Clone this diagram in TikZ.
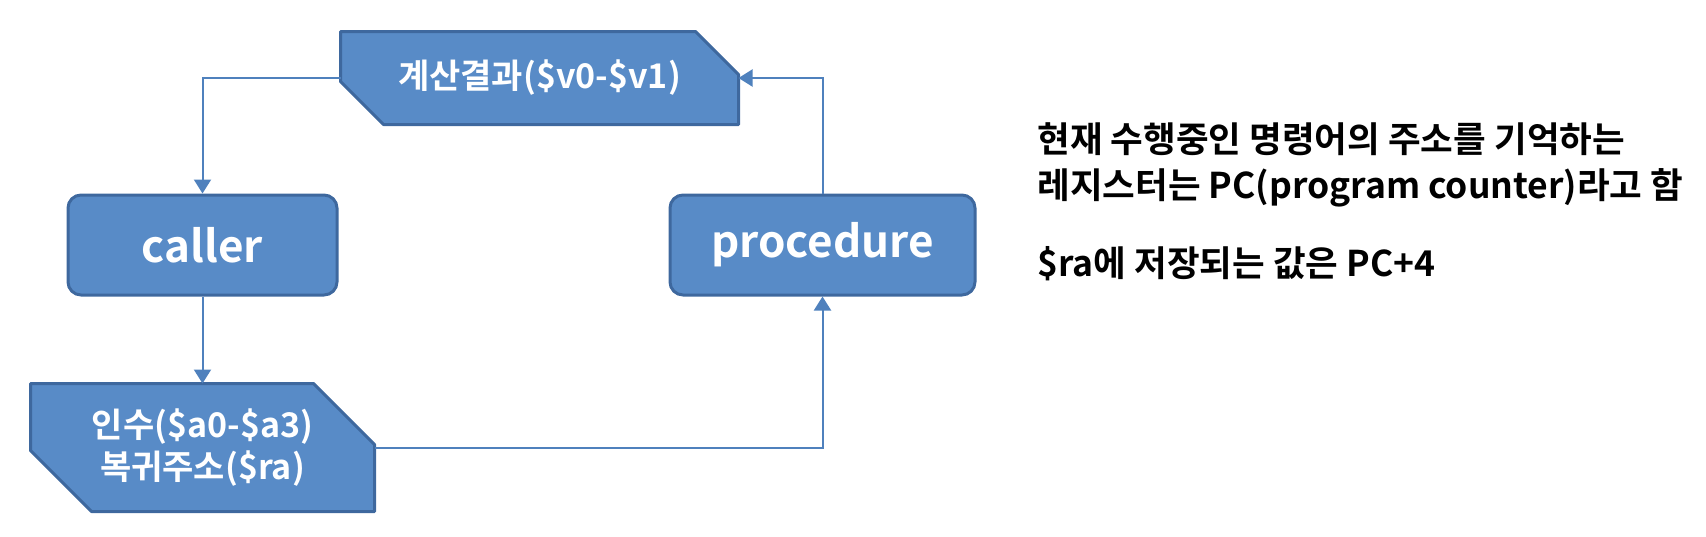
\documentclass[tikz,border=0pt]{standalone}
\usepackage{fontspec}
\setmainfont{Noto Sans CJK KR}[BoldFont={Noto Sans CJK KR Bold}]
\usepackage{tikz}
\usetikzlibrary{arrows.meta, backgrounds}

\definecolor{boxblue}{RGB}{88,139,199}
\definecolor{boxline}{RGB}{62,104,158}
\definecolor{linkblue}{RGB}{79,129,189}

\tikzset{
    cutbox/.style={draw=boxline, line width=3pt, line join=round, fill=boxblue}
}

\begin{document}
\begin{tikzpicture}[x=1pt, y=-1pt]
            \useasboundingbox (0,0) rectangle (1706,536);
            \begin{scope}[every node/.style={text=white, inner sep=0pt, outer sep=1.5pt}]
                \node[minimum width=395pt, minimum height=90pt,
                      font=\bfseries\fontsize{34}{40}\selectfont] (res) at (539.5,78) {계산결과(\$v0-\$v1)};
                \node[draw=boxline, line width=3pt, fill=boxblue, rounded corners=13pt,
                      minimum width=269pt, minimum height=100pt,
                      font=\bfseries\fontsize{44}{50}\selectfont] (caller) at (202.5,245) {caller};
                \node[draw=boxline, line width=3pt, fill=boxblue, rounded corners=13pt,
                      minimum width=305pt, minimum height=100pt,
                      font=\bfseries\fontsize{44}{50}\selectfont] (proc) at (822.5,245) {procedure};
                \node[minimum width=341pt, minimum height=125pt, align=center,
                      font=\bfseries\fontsize{34}{42}\selectfont] (args) at (202.5,447.5) {인수(\$a0-\$a3)\\복귀주소(\$ra)};
            \end{scope}

            \begin{pgfonlayer}{background}
                \draw[cutbox] (res.north west) -- ([xshift=-43pt]res.north east)
                    -- ([yshift=-43pt]res.north east) -- (res.south east)
                    -- ([xshift=43pt]res.south west) -- ([yshift=43pt]res.south west) -- cycle;
                \draw[cutbox] (args.north west) -- ([xshift=-61pt]args.north east)
                    -- ([yshift=-61pt]args.north east) -- (args.south east)
                    -- ([xshift=61pt]args.south west) -- ([yshift=61pt]args.south west) -- cycle;
            \end{pgfonlayer}

            \begin{scope}[>={Triangle[length=14pt, width=17pt]},
                          every path/.style={draw=linkblue, line width=2pt}]
                \draw[->] (res.west) -| (caller.north);
                \draw[->] (caller.south) -- (args.north);
                \draw[->] (args.east) -| (proc.south);
                \draw[->] (proc.north) |- (res.east);
            \end{scope}

            \begin{scope}[every node/.style={anchor=west, align=left, font=\bfseries\fontsize{35.5}{46}\selectfont}]
                \node (pcnote) at (1034,165) {현재 수행중인 명령어의 주소를 기억하는\\레지스터는 PC(program counter)라고 함};
                \node (ranote) at (1034,264) {\$ra에 저장되는 값은 PC+4};
            \end{scope}
\end{tikzpicture}
\end{document}
